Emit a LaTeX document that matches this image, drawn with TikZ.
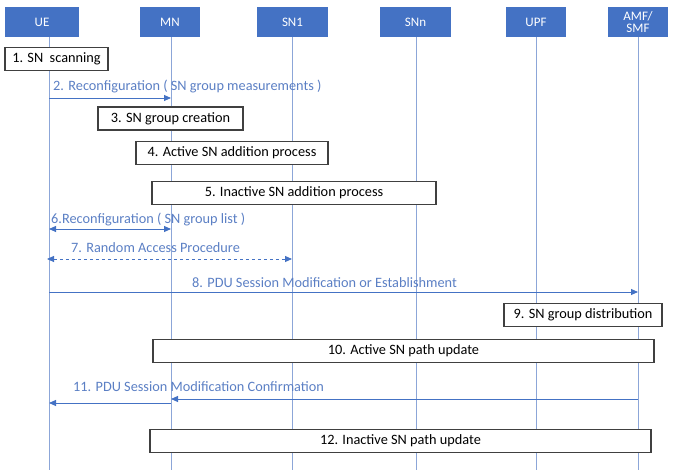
\documentclass[tikz,border=0pt]{standalone}
\usepackage{fontspec}
\setmainfont{Carlito}
\usetikzlibrary{arrows.meta}
\definecolor{hdrblue}{HTML}{4472C4}
\definecolor{lifec}{HTML}{8CA6D8}
\definecolor{msgc}{HTML}{4472C4}
\definecolor{lblc}{HTML}{5B7FC4}
\definecolor{boxc}{HTML}{404040}
\tikzset{
  hdr/.style={fill=hdrblue, text=white, minimum height=30pt, inner sep=0pt, font=\fontsize{13}{12.5}\selectfont, align=center},
  life/.style={draw=lifec, line width=0.9pt},
  stepbox/.style={draw=boxc, fill=white, line width=1.1pt, minimum height=23pt, inner sep=0pt, font=\fontsize{14.3}{15}\selectfont, text=black},
  msg/.style={draw=msgc, line width=0.9pt, -{Triangle[length=7pt,width=6pt]}},
  dmsg/.style={draw=msgc, line width=0.9pt, {Triangle[length=7pt,width=6pt]}-{Triangle[length=7pt,width=6pt]}},
  lbl/.style={text=lblc, inner sep=0pt, font=\fontsize{14.3}{15}\selectfont, anchor=west}
}
\begin{document}
\begin{tikzpicture}[x=1pt,y=-1pt]
\useasboundingbox (0,0) rectangle (673,470);
% headers
\node[hdr, minimum width=74pt] (ue) at (42,22) {UE};
\node[hdr, minimum width=60pt] (mn) at (170,22) {MN};
\node[hdr, minimum width=71pt] (sn1) at (292.5,22) {SN1};
\node[hdr, minimum width=71pt] (snn) at (415.5,22) {SNn};
\node[hdr, minimum width=60pt] (upf) at (536,22) {UPF};
\node[hdr, minimum width=60pt] (amf) at (638,22) {AMF/\\SMF};
% lifelines
\foreach \n/\x in {ue/49, mn/171, sn1/292, snn/416, upf/536, amf/638}{
  \coordinate (\n T) at (\x,37);
  \coordinate (\n B) at (\x,470);
  \draw[life] (\n T) -- (\n B);
}
% step 1
\node[stepbox, minimum width=103pt] (s1) at (56.5,59) {1. SN\ \ scanning};
% step 2
\coordinate (a2s) at (49,98); \coordinate (a2e) at (171,98);
\draw[msg] (a2s) -- (a2e);
\node[lbl] (l2) at (53,87) {2. Reconfiguration ( SN group measurements )};
% step 3
\node[stepbox, minimum width=145pt] (s3) at (170.5,118.5) {3. SN group creation};
% step 4
\node[stepbox, minimum width=192pt] (s4) at (232,153) {4. Active SN addition process};
% step 5
\node[stepbox, minimum width=284pt] (s5) at (294,193) {5. Inactive SN addition process};
% step 6
\coordinate (a6s) at (49,229); \coordinate (a6e) at (171,229);
\draw[dmsg] (a6s) -- (a6e);
\node[lbl] (l6) at (51,220) {6.Reconfiguration ( SN group list )};
% step 7
\coordinate (a7s) at (47,259); \coordinate (a7e) at (292,259);
\draw[dmsg, dashed] (a7s) -- (a7e);
\node[lbl] (l7) at (71,248) {7. Random Access Procedure};
% step 8
\coordinate (a8s) at (49,292); \coordinate (a8e) at (638,292);
\draw[msg] (a8s) -- (a8e);
\node[lbl] (l8) at (192,283) {8. PDU Session Modification or Establishment};
% step 9
\node[stepbox, minimum width=158pt] (s9) at (583,315) {9. SN group distribution};
% step 10
\node[stepbox, minimum width=501pt] (s10) at (403.5,351) {10. Active SN path update};
% step 11
\coordinate (a11s) at (638,399); \coordinate (a11m) at (171,399);
\coordinate (a11n) at (171,403); \coordinate (a11e) at (49,403);
\draw[msg] (a11s) -- (a11m);
\draw[msg] (a11n) -- (a11e);
\node[lbl] (l11) at (73,387) {11. PDU Session Modification Confirmation};
% step 12
\node[stepbox, minimum width=501pt] (s12) at (400.5,441) {12. Inactive SN path update};
\end{tikzpicture}
\end{document}
